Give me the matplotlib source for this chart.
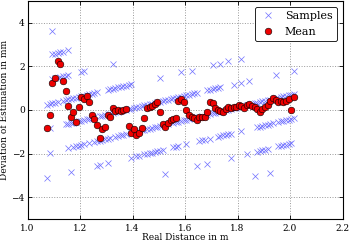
import matplotlib
matplotlib.use("Agg")
import matplotlib.pyplot as plt

plt.rcParams['font.family'] = ['DejaVu Serif']
plt.rcParams['xtick.direction'] = 'in'
plt.rcParams['ytick.direction'] = 'in'
plt.rcParams['xtick.top'] = True
plt.rcParams['ytick.right'] = True

# Mean deviation per distance
mean_x = [1.075, 1.085, 1.095, 1.105, 1.115, 1.125, 1.135, 1.145, 1.155, 1.165,
          1.175, 1.185, 1.195, 1.205, 1.215, 1.225, 1.235, 1.245, 1.255, 1.265,
          1.275, 1.285, 1.295, 1.305, 1.315, 1.325, 1.335, 1.345, 1.355, 1.365,
          1.375, 1.385, 1.395, 1.405, 1.415, 1.425, 1.435, 1.445, 1.455, 1.465,
          1.475, 1.485, 1.495, 1.505, 1.515, 1.525, 1.535, 1.545, 1.555, 1.565,
          1.575, 1.585, 1.595, 1.605, 1.615, 1.625, 1.635, 1.645, 1.655, 1.665,
          1.675, 1.685, 1.695, 1.705, 1.715, 1.725, 1.735, 1.745, 1.755, 1.765,
          1.775, 1.785, 1.795, 1.805, 1.815, 1.825, 1.835, 1.845, 1.855, 1.865,
          1.875, 1.885, 1.895, 1.905, 1.915, 1.925, 1.935, 1.945, 1.955, 1.965,
          1.975, 1.985, 1.995, 2.005, 2.015]
mean_y = [-0.84, -0.23, 1.22, 1.48, 2.26, 2.10, 1.35, 0.87, 0.18, -0.31,
          -0.08, -0.54, 0.15, 0.61, 0.50, 0.64, 0.35, -0.23, -0.43, -0.70,
          -1.29, -0.88, -0.76, -0.23, -0.34, 0.11, -0.03, 0.00, -0.03, 0.00,
          0.05, -0.73, -1.07, -0.89, -1.15, -1.07, -0.84, -0.38, 0.08, 0.15,
          0.20, 0.28, 0.38, -0.08, -0.65, -0.76, -0.61, -0.46, -0.40, -0.38,
          0.43, 0.49, 0.38, 0.00, -0.23, -0.31, -0.38, -0.46, -0.31, -0.31,
          -0.31, -0.08, 0.38, 0.31, 0.08, 0.00, -0.05, -0.10, 0.03, 0.12,
          0.08, 0.15, 0.12, 0.23, 0.18, 0.08, 0.23, 0.28, 0.18, 0.12,
          0.03, -0.08, 0.03, 0.12, 0.23, 0.43, 0.54, 0.46, 0.38, 0.43,
          0.38, 0.43, 0.49, 0.00, 0.61]

# Individual samples, grouped by quantisation level (x in m, y in mm)
samples_level_p3 = [(1.095, 3.64)]
samples_level_p2 = [(1.095, 2.55), (1.105, 2.58), (1.115, 2.61), (1.125, 2.64),
                    (1.135, 2.67), (1.155, 2.73)]
samples_level_p1 = [(1.095, 1.43), (1.105, 1.46), (1.115, 1.49), (1.125, 1.52),
                    (1.135, 1.55), (1.145, 1.58), (1.155, 1.61), (1.205, 1.75),
                    (1.215, 1.78), (1.325, 2.10)]
samples_level_0 = [(1.075, 0.25), (1.085, 0.28), (1.095, 0.31), (1.105, 0.34),
                   (1.115, 0.37),
                   (1.135, 0.43), (1.145, 0.46), (1.155, 0.49), (1.165, 0.52),
                   (1.175, 0.54), (1.185, 0.57), (1.195, 0.60), (1.205, 0.63),
                   (1.215, 0.66), (1.225, 0.69), (1.235, 0.72), (1.245, 0.75),
                   (1.255, 0.78), (1.265, 0.81),
                   (1.305, 0.92), (1.315, 0.95), (1.325, 0.98), (1.335, 1.01),
                   (1.345, 1.04), (1.355, 1.07), (1.365, 1.10), (1.375, 1.12),
                   (1.385, 1.15), (1.395, 1.18),
                   (1.505, 1.47), (1.585, 1.72), (1.625, 1.81), (1.705, 2.05),
                   (1.735, 2.13), (1.765, 2.23), (1.815, 2.35)]
samples_level_m1 = [(1.085, -0.84),
                    (1.145, -0.66), (1.155, -0.63), (1.165, -0.60), (1.175, -0.58),
                    (1.185, -0.55), (1.195, -0.52), (1.205, -0.49), (1.215, -0.46),
                    (1.225, -0.43), (1.235, -0.40), (1.245, -0.37), (1.255, -0.34),
                    (1.275, -0.29), (1.285, -0.26), (1.295, -0.23), (1.305, -0.20),
                    (1.315, -0.17), (1.325, -0.14), (1.335, -0.11), (1.345, -0.08),
                    (1.355, -0.05), (1.365, -0.02), (1.375, 0.00), (1.385, 0.03),
                    (1.395, 0.06),
                    (1.405, 0.09), (1.415, 0.12), (1.425, 0.15), (1.435, 0.18),
                    (1.445, 0.21), (1.455, 0.24), (1.465, 0.27), (1.475, 0.29),
                    (1.485, 0.32), (1.495, 0.35), (1.505, 0.38), (1.515, 0.41),
                    (1.525, 0.44), (1.535, 0.47), (1.545, 0.50), (1.555, 0.53),
                    (1.565, 0.56), (1.575, 0.58), (1.585, 0.61), (1.595, 0.64),
                    (1.605, 0.67), (1.615, 0.70), (1.625, 0.73), (1.635, 0.76),
                    (1.645, 0.79),
                    (1.685, 0.90), (1.695, 0.93), (1.705, 0.96), (1.715, 0.99),
                    (1.725, 1.02), (1.735, 1.05),
                    (1.785, 1.16), (1.815, 1.24), (1.845, 1.34), (1.945, 1.62),
                    (2.015, 1.81)]
samples_level_m2 = [(1.085, -1.96),
                    (1.155, -1.75), (1.175, -1.70), (1.185, -1.67), (1.195, -1.64),
                    (1.205, -1.61), (1.215, -1.58), (1.235, -1.52),
                    (1.255, -1.46), (1.265, -1.43), (1.275, -1.41), (1.285, -1.38),
                    (1.295, -1.35), (1.305, -1.32), (1.315, -1.29),
                    (1.335, -1.23), (1.345, -1.20), (1.355, -1.17), (1.365, -1.14),
                    (1.375, -1.12), (1.395, -1.06), (1.405, -1.03), (1.415, -1.00),
                    (1.425, -0.97), (1.435, -0.94), (1.445, -0.91), (1.455, -0.88),
                    (1.465, -0.85), (1.475, -0.83), (1.485, -0.80), (1.495, -0.77),
                    (1.505, -0.74), (1.515, -0.71), (1.525, -0.68), (1.535, -0.65),
                    (1.555, -0.59), (1.565, -0.56), (1.575, -0.54), (1.585, -0.51),
                    (1.595, -0.48), (1.605, -0.45), (1.615, -0.42), (1.625, -0.39),
                    (1.635, -0.36), (1.645, -0.33), (1.655, -0.30), (1.665, -0.27),
                    (1.685, -0.22), (1.695, -0.19), (1.705, -0.16), (1.715, -0.13),
                    (1.725, -0.10), (1.735, -0.07), (1.745, -0.04), (1.755, -0.01),
                    (1.765, 0.02), (1.775, 0.04), (1.785, 0.07), (1.795, 0.10),
                    (1.805, 0.13), (1.815, 0.16), (1.835, 0.22), (1.845, 0.25),
                    (1.855, 0.28), (1.865, 0.31), (1.875, 0.33), (1.885, 0.36),
                    (1.895, 0.39), (1.905, 0.42), (1.915, 0.45), (1.925, 0.48),
                    (1.935, 0.51), (1.945, 0.54), (1.955, 0.57), (1.965, 0.60),
                    (1.975, 0.62), (1.985, 0.65), (1.995, 0.68), (2.005, 0.71),
                    (2.015, 0.74)]
samples_level_m3 = [(1.075, -3.11), (1.165, -2.84), (1.265, -2.55), (1.275, -2.53),
                    (1.305, -2.44),
                    (1.395, -2.18), (1.415, -2.12), (1.425, -2.09), (1.445, -2.03),
                    (1.455, -2.00), (1.465, -1.97), (1.475, -1.95), (1.485, -1.92),
                    (1.495, -1.89), (1.505, -1.86), (1.515, -1.83),
                    (1.555, -1.71), (1.565, -1.68), (1.575, -1.66), (1.605, -1.57),
                    (1.655, -1.42), (1.665, -1.39), (1.675, -1.37), (1.695, -1.31),
                    (1.725, -1.22), (1.735, -1.19), (1.745, -1.16), (1.755, -1.13),
                    (1.765, -1.10), (1.775, -1.08), (1.815, -0.96),
                    (1.875, -0.79), (1.885, -0.76), (1.895, -0.73), (1.905, -0.70),
                    (1.915, -0.67), (1.925, -0.64), (1.935, -0.61),
                    (1.955, -0.55), (1.965, -0.52), (1.975, -0.50), (1.985, -0.47),
                    (1.995, -0.44), (2.005, -0.41), (2.015, -0.38)]
samples_level_m4 = [(1.525, -2.92), (1.645, -2.57), (1.685, -2.46), (1.775, -2.20),
                    (1.835, -2.02),
                    (1.875, -1.91), (1.885, -1.88), (1.895, -1.85), (1.905, -1.82),
                    (1.915, -1.79),
                    (1.955, -1.67), (1.965, -1.64), (1.975, -1.62), (1.985, -1.59),
                    (1.995, -1.56), (2.005, -1.53)]
samples_level_m5 = [(1.865, -3.05), (1.925, -2.88)]

x_ticks = [1.0, 1.2, 1.4, 1.6, 1.8, 2.0, 2.2]
y_ticks = [-4, -2, 0, 2, 4]

all_samples = (samples_level_p3 + samples_level_p2 + samples_level_p1 +
               samples_level_0 + samples_level_m1 + samples_level_m2 +
               samples_level_m3 + samples_level_m4 + samples_level_m5)
sx = [p[0] for p in all_samples]
sy = [p[1] for p in all_samples]

fig = plt.figure(figsize=(3.5, 2.43), dpi=100)
fig.patch.set_facecolor('white')
ax = fig.add_axes([0.0786, 0.0988, 0.9, 0.8971])

ax.plot(sx, sy, linestyle='none', marker='x', color='#6f6fff',
        markersize=4.2, markeredgewidth=0.5, label='Samples')
ax.plot(mean_x, mean_y, linestyle='none', marker='o', markerfacecolor='#ee0000',
        markeredgecolor='black', markeredgewidth=0.4, markersize=4.8, label='Mean')

ax.set_xlim(1.0, 2.2)
ax.set_ylim(-5, 5)
ax.set_xticks(x_ticks)
ax.set_yticks(y_ticks)
ax.set_xticklabels(['%.1f' % v for v in x_ticks])
ax.set_yticklabels(['\u2212%d' % -v if v < 0 else '%d' % v for v in y_ticks])
ax.tick_params(labelsize=6.5, length=3, width=0.6)
ax.tick_params(axis='x', pad=3.5)
ax.tick_params(axis='y', pad=2.0)
ax.grid(True, color='0.6', linestyle=':', linewidth=0.7)
ax.set_axisbelow(True)
for s in ax.spines.values():
    s.set_linewidth(0.8)

ax.set_xlabel('Real Distance in m', fontsize=6.5)
ax.set_ylabel('Deviation of Estimation in mm', fontsize=6.5)
ax.xaxis.set_label_coords(0.5, -0.066)
ax.yaxis.set_label_coords(-0.058, 0.5)

leg = ax.legend(loc='upper right', numpoints=1, fontsize=8, fancybox=True,
                framealpha=1, edgecolor='black', handletextpad=0.8,
                borderpad=0.4, labelspacing=0.5, handlelength=1.5)
leg.get_frame().set_linewidth(0.6)

fig.savefig('out.png', dpi=100, facecolor='white')
